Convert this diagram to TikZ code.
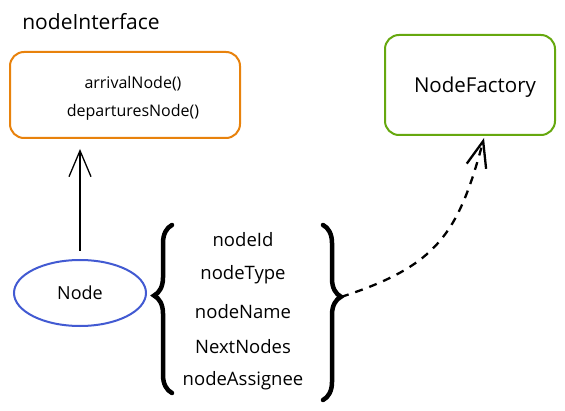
\documentclass[tikz,border=0pt]{standalone}
\usepackage{fontspec}
\setmainfont{Open Sans}
\usetikzlibrary{positioning,arrows.meta,decorations.pathreplacing,shapes.geometric}
\definecolor{ifaceorange}{RGB}{232,130,12}
\definecolor{factgreen}{RGB}{102,168,15}
\definecolor{nodeblue}{RGB}{66,90,210}
\tikzset{
	sketchbox/.style={rectangle,rounded corners=14pt,line width=2pt,fill=white},
	nodeell/.style={ellipse,draw=nodeblue,line width=2pt,minimum width=132pt,minimum height=66pt,inner sep=0pt},
	fieldtext/.style={font=\fontsize{18.5}{22}\selectfont},
	curly/.style={decorate,decoration={brace,amplitude=18pt,aspect=#1},line width=4.5pt,line cap=round},
	implarrow/.style={-{Straight Barb[length=26pt,width=22pt]},line width=1.3pt},
	usearrow/.style={-{Straight Barb[length=26pt,width=20pt]},line width=2.3pt,dash pattern=on 8pt off 7pt}
}
\begin{document}
\begin{tikzpicture}[x=1pt,y=1pt]
	\useasboundingbox (0,0) rectangle (565,410);

	%%Interface box
	\node[font=\fontsize{21}{25}\selectfont] (ifacetitle) at (91,388) {nodeInterface};
	\node[sketchbox,draw=ifaceorange,minimum width=230pt,minimum height=86pt] (iface) at (125,315) {};
	\node[font=\fontsize{16}{19}\selectfont] (arrival) at (133,326) {arrivalNode()};
	\node[font=\fontsize{16}{19}\selectfont] (departures) at (133,298) {departuresNode()};

	%%Factory box
	\node[sketchbox,draw=factgreen,minimum width=170pt,minimum height=100pt] (factory) at (470,325) {};
	\node[font=\fontsize{20.5}{24}\selectfont] (factname) at (475,323) {NodeFactory};

	%%Node + fields
	\node[nodeell,font=\fontsize{18}{22}\selectfont] (node) at (80,117) {Node};
	\node[fieldtext] (fid) at (243,170) {nodeId};
	\node[fieldtext] (ftype) at (243,135) {nodeType};
	\node[fieldtext] (fname) at (243,98) {nodeName};
	\node[fieldtext] (fnext) at (243,63) {NextNodes};
	\node[fieldtext] (fassignee) at (243,29) {nodeAssignee};

	%%braces
	\coordinate (lbbot) at (172,17);
	\coordinate (lbtop) at (172,185);
	\coordinate (rbtop) at (323,185);
	\coordinate (rbbot) at (323,10);
	\coordinate (rbtip) at (341,113);
	\draw[curly=0.58] (lbbot) -- (lbtop);
	\draw[curly=0.41] (rbtop) -- (rbbot);

	%%%%%% EDGES
	\draw[implarrow,shorten <=8pt,shorten >=10pt] (node.north) -- (node.north |- iface.south);
	\coordinate (factin) at (484,272);
	\draw[usearrow] (rbtip) to[out=18,in=-105,looseness=1.2] (factin);

\end{tikzpicture}
\end{document}
